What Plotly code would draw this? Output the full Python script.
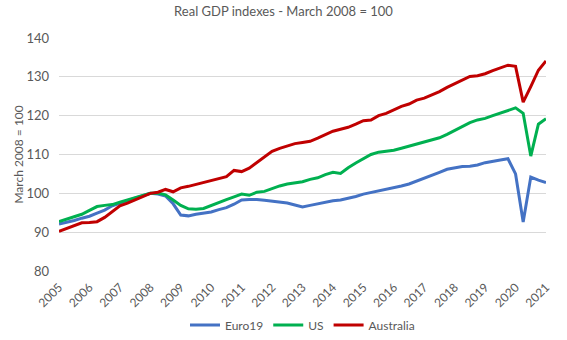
import plotly.graph_objects as go

# Quarterly periods 2005Q1 .. 2021Q1
years = list(range(2005, 2022))
quarters = [f"{y}Q{q}" for y in range(2005, 2021) for q in range(1, 5)] + ["2021Q1"]

euro19 = [
    92.1, 92.5, 93.0, 93.6,
    94.1, 94.9, 95.7, 96.8,
    97.5, 98.1, 98.8, 99.4,
    100.0, 99.8, 99.3, 97.3,
    94.4, 94.2, 94.6, 94.9,
    95.2, 95.8, 96.3, 97.2,
    98.3, 98.4, 98.4, 98.2,
    98.0, 97.8, 97.5, 97.0,
    96.5, 96.9, 97.3, 97.7,
    98.1, 98.3, 98.7, 99.2,
    99.8, 100.2, 100.6, 101.0,
    101.5, 101.9, 102.4, 103.1,
    103.8, 104.7, 105.4, 106.2,
    106.6, 106.9, 107.0, 107.3,
    107.9, 108.3, 108.6, 108.9,
    105.0, 92.6, 104.2, 103.4,
    102.8,
]

us = [
    92.7, 93.4, 94.0, 94.6,
    95.6, 96.6, 96.9, 97.1,
    97.7, 98.3, 98.8, 99.3,
    100.0, 100.1, 99.6, 98.3,
    96.9, 96.0, 95.9, 96.1,
    96.9, 97.8, 98.4, 99.1,
    99.8, 99.5, 100.3, 100.5,
    101.3, 101.9, 102.4, 102.7,
    103.0, 103.6, 104.0, 104.8,
    105.4, 105.1, 106.6, 107.8,
    108.9, 110.0, 110.6, 110.9,
    111.1, 111.6, 112.1, 112.6,
    113.1, 113.7, 114.3, 115.2,
    116.2, 117.3, 118.2, 118.9,
    119.3, 120.0, 120.7, 121.5,
    122.0, 120.6, 109.6, 117.8,
    119.2,
]

australia = [
    90.2, 91.0, 91.8, 92.4,
    92.5, 92.7, 93.8, 95.2,
    96.8, 97.5, 98.3, 99.0,
    100.0, 100.3, 101.0, 100.4,
    101.4, 101.8, 102.3, 102.8,
    103.3, 103.8, 104.3, 105.9,
    105.6, 106.5, 108.0, 109.3,
    110.8, 111.6, 112.3, 112.8,
    113.1, 113.4, 114.2, 115.1,
    116.0, 116.5, 117.0, 117.8,
    118.7, 118.9, 120.0, 120.6,
    121.5, 122.4, 123.0, 124.0,
    124.5, 125.3, 126.2, 127.3,
    128.2, 129.3, 130.1, 130.3,
    130.8, 131.6, 132.3, 133.0,
    132.7, 123.5, 127.5, 131.7,
    134.1,
]

# Convert quarter labels to fractional years for a continuous time axis
def to_year(label):
    y, q = label.split("Q")
    return int(y) + (int(q) - 1) / 4

x = [to_year(p) for p in quarters]

series = [
    ("Euro19", euro19, "#4472C4"),
    ("US", us, "#00B050"),
    ("Australia", australia, "#C00000"),
]

fig = go.Figure()
for name, vals, color in series:
    fig.add_trace(go.Scatter(
        x=x, y=vals, name=name, mode="lines",
        line=dict(color=color, width=3),
    ))

font_family = "Lato, 'Open Sans', sans-serif"
grey = "#595959"

fig.update_layout(
    width=567, height=340,
    margin=dict(l=59, r=21, t=38, b=69, autoexpand=False),
    paper_bgcolor="white", plot_bgcolor="white",
    font=dict(family=font_family, color=grey, size=12),
    title=dict(text="Real GDP indexes - March 2008 = 100",
               x=0.5, xanchor="center", y=0.967, yanchor="middle",
               font=dict(size=13, color=grey, family=font_family)),
    showlegend=True,
    legend=dict(orientation="h", x=0.5, xanchor="center",
                y=-0.17, yanchor="top", font=dict(size=12, color=grey),
                itemwidth=30, tracegroupgap=0),
    xaxis=dict(range=[2005, 2021], tickmode="array", tickvals=years,
               ticktext=[str(y) for y in years], tickangle=-45,
               showgrid=False, zeroline=False, showline=False,
               automargin=False, ticklabelstandoff=6,
               tickfont=dict(size=12, color=grey), ticks=""),
    yaxis=dict(range=[80, 140], dtick=10, showgrid=True,
               gridcolor="#D9D9D9", gridwidth=1, zeroline=False,
               showline=False, ticks="", ticklen=0, automargin=False,
               ticklabelstandoff=9,
               tickfont=dict(size=13, color=grey)),
    annotations=[dict(
        text="March 2008 = 100", textangle=-90,
        xref="paper", yref="paper", x=-0.084, y=0.5,
        xanchor="center", yanchor="middle", showarrow=False,
        font=dict(size=12, color=grey),
    )],
)

fig.write_html("out.html")
